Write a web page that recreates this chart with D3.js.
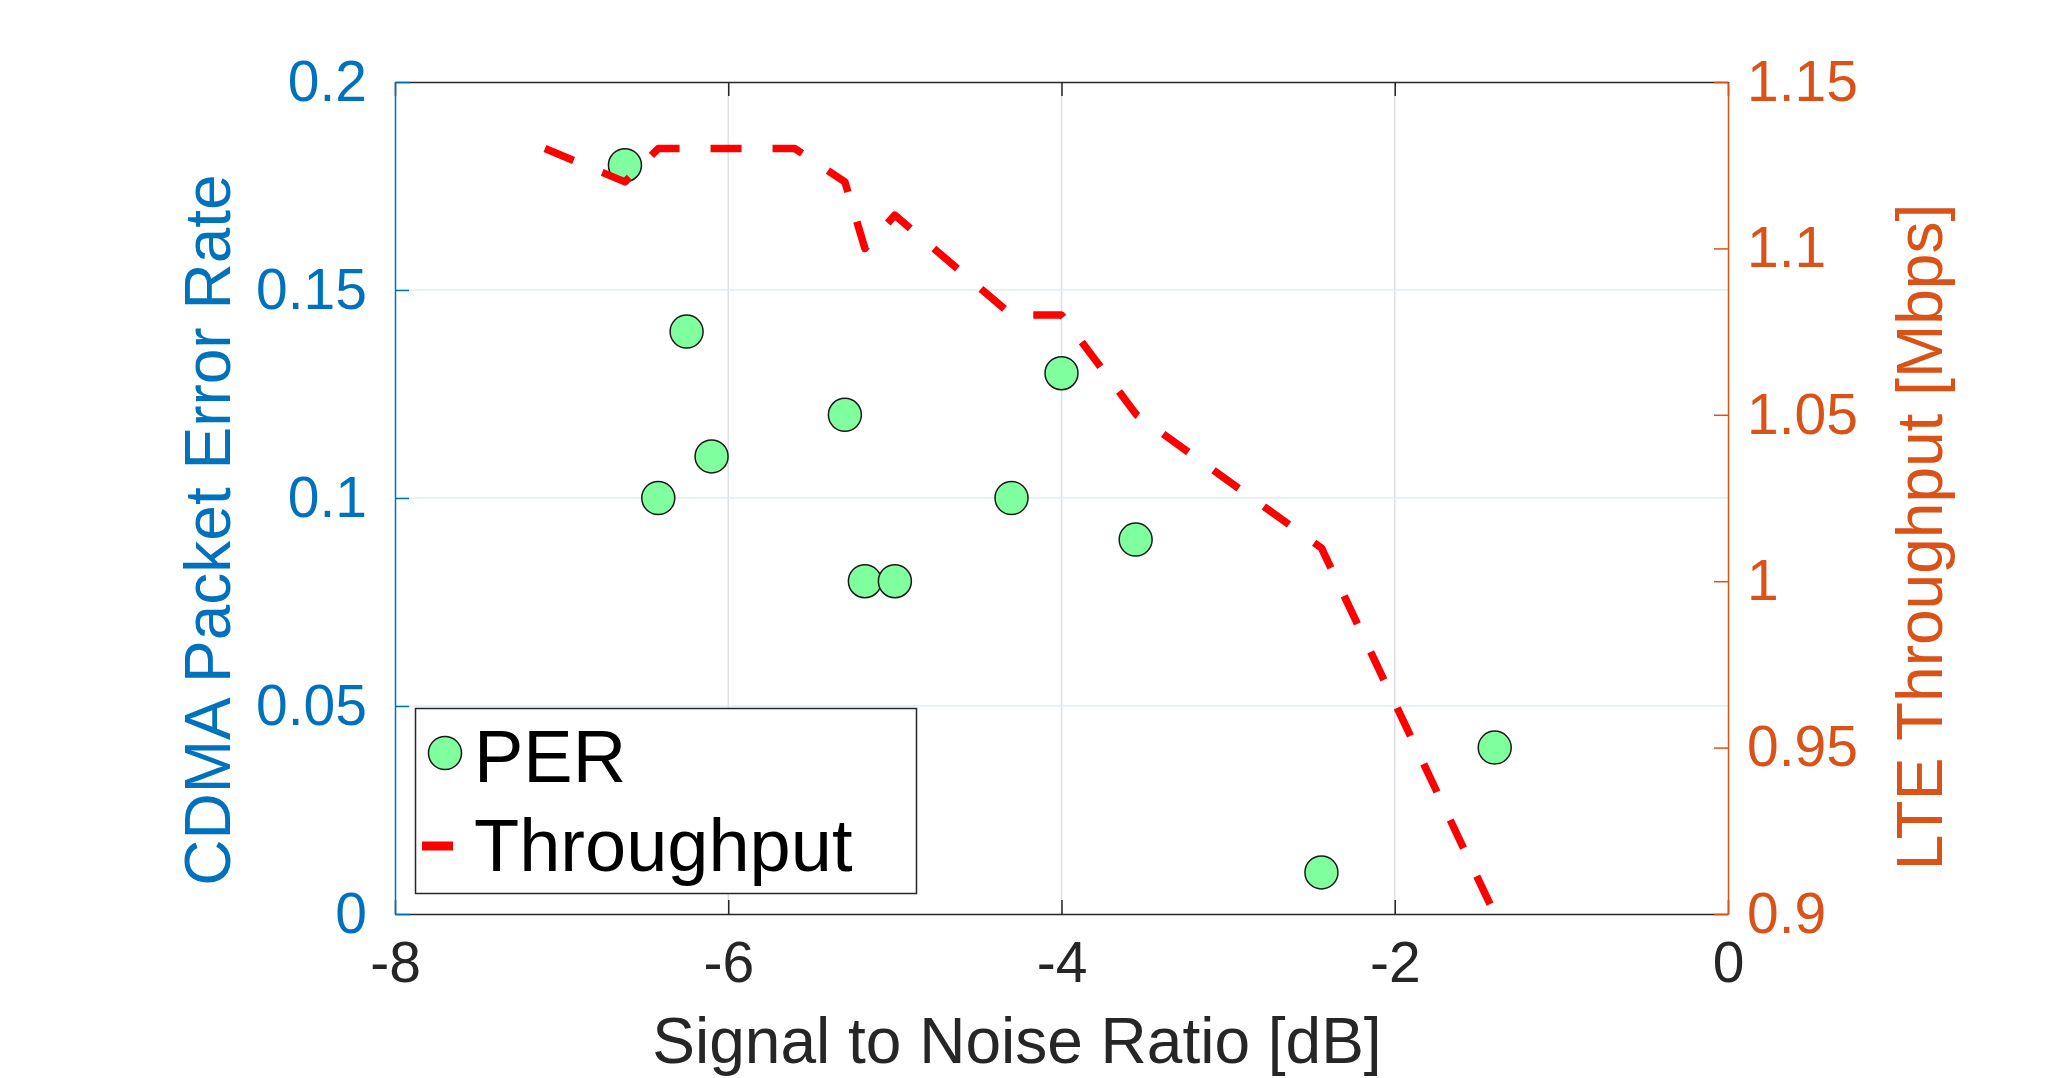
<!DOCTYPE html>
<html>
<head>
    <meta charset="utf-8" />
    <title>PER and LTE throughput vs SNR</title>
    <style>
        body { margin: 0; background: #fff; }
        svg text { font-family: "Liberation Sans", Arial, Helvetica, sans-serif; }
    </style>
    <script type="text/javascript" src="https://cdn.jsdelivr.net/npm/d3@7/dist/d3.min.js"></script>
</head>
<body>
    <div id="svg"></div>

    <script type="text/javascript">
        // data
        var snr = [-6.62, -6.25, -6.42, -6.10, -5.30, -5.18, -5.00, -4.30, -4.00, -3.555, -2.44, -1.40];
        var per = [0.18, 0.14, 0.10, 0.11, 0.12, 0.08, 0.08, 0.10, 0.13, 0.09, 0.01, 0.04];

        var thrSnr = [-7.10, -6.62, -6.42, -6.25, -6.10, -5.60, -5.30, -5.18, -5.00, -4.30, -4.00, -3.55, -2.44, -1.40];
        var thr = [1.13, 1.12, 1.13, 1.13, 1.13, 1.13, 1.12, 1.10, 1.11, 1.08, 1.08, 1.05, 1.01, 0.90];

        var xTicks = [-8, -6, -4, -2, 0];
        var leftTicks = [0, 0.05, 0.1, 0.15, 0.2];
        var leftLabels = ['0', '0.05', '0.1', '0.15', '0.2'];
        var rightTicks = [0.9, 0.95, 1, 1.05, 1.1, 1.15];
        var rightLabels = ['0.9', '0.95', '1', '1.05', '1.1', '1.15'];

        var width = 2053,
            height = 1078,
            plotLeft = 395, plotRight = 1728,
            plotTop = 82, plotBottom = 914;

        var blue = '#0072bd',
            orange = '#d95319',
            dark = '#262626';

        var svg = d3.select('#svg')
            .append('svg')
            .attr('width', width)
            .attr('height', height);

        var xScale = d3.scaleLinear().domain([-8, 0]).range([plotLeft, plotRight]);
        var yLeft = d3.scaleLinear().domain([0, 0.2]).range([plotBottom, plotTop]);
        var yRight = d3.scaleLinear().domain([0.9, 1.15]).range([plotBottom, plotTop]);

        // grid
        svg.append('g').selectAll('line')
            .data(xTicks.slice(1, -1))
            .enter().append('line')
            .attr('x1', d => xScale(d)).attr('x2', d => xScale(d))
            .attr('y1', plotTop).attr('y2', plotBottom)
            .attr('stroke', '#dcdfe3').attr('stroke-width', 1.5);

        svg.append('g').selectAll('line')
            .data(leftTicks.slice(1, -1))
            .enter().append('line')
            .attr('x1', plotLeft).attr('x2', plotRight)
            .attr('y1', d => yLeft(d)).attr('y2', d => yLeft(d))
            .attr('stroke', '#e2ecf4').attr('stroke-width', 1.5);

        // axes
        function styleAxis(g, color, size) {
            g.selectAll('.tick line').attr('stroke', color).attr('stroke-width', 1.5);
            g.select('.domain').attr('stroke', color).attr('stroke-width', 1.5);
            g.selectAll('.tick text')
                .attr('fill', color)
                .style('font-size', size + 'px');
        }

        var gTop = svg.append('g')
            .attr('transform', 'translate(0,' + plotTop + ')')
            .call(d3.axisTop(xScale).tickValues(xTicks).tickSizeInner(-14).tickSizeOuter(0).tickFormat(''));
        styleAxis(gTop, dark, 57);

        var gX = svg.append('g')
            .attr('transform', 'translate(0,' + plotBottom + ')')
            .call(d3.axisBottom(xScale).tickValues(xTicks).tickSizeInner(-14).tickSizeOuter(0).tickPadding(28).tickFormat(d => d));
        styleAxis(gX, dark, 57);

        var gL = svg.append('g')
            .attr('transform', 'translate(' + plotLeft + ',0)')
            .call(d3.axisLeft(yLeft).tickValues(leftTicks).tickSizeInner(-14).tickSizeOuter(0).tickPadding(28)
                .tickFormat((d, i) => leftLabels[i]));
        styleAxis(gL, blue, 57);

        var gR = svg.append('g')
            .attr('transform', 'translate(' + plotRight + ',0)')
            .call(d3.axisRight(yRight).tickValues(rightTicks).tickSizeInner(-14).tickSizeOuter(0).tickPadding(19)
                .tickFormat((d, i) => rightLabels[i]));
        styleAxis(gR, orange, 57);

        // axis titles
        svg.append('text')
            .attr('x', 1017).attr('y', 1063)
            .attr('text-anchor', 'middle')
            .attr('fill', dark)
            .style('font-size', '64px')
            .text('Signal to Noise Ratio [dB]');

        svg.append('text')
            .attr('transform', 'translate(230,530) rotate(-90)')
            .attr('text-anchor', 'middle')
            .attr('fill', blue)
            .style('font-size', '64px')
            .text('CDMA Packet Error Rate');

        svg.append('text')
            .attr('transform', 'translate(1942,537) rotate(-90)')
            .attr('text-anchor', 'middle')
            .attr('fill', orange)
            .style('font-size', '64px')
            .text('LTE Throughput [Mbps]');

        // PER markers
        var pts = snr.map((s, i) => ({ x: s, y: per[i] }));
        svg.append('g').selectAll('circle')
            .data(pts)
            .enter().append('circle')
            .attr('cx', d => xScale(d.x))
            .attr('cy', d => yLeft(d.y))
            .attr('r', 16.5)
            .attr('fill', '#80ff9f')
            .attr('stroke', '#1a1a1a')
            .attr('stroke-width', 1.5);

        // throughput line
        var line = d3.line()
            .x(d => xScale(d[0]))
            .y(d => yRight(d[1]));

        svg.append('path')
            .datum(thrSnr.map((s, i) => [s, thr[i]]))
            .attr('d', line)
            .attr('fill', 'none')
            .attr('stroke', '#ff0000')
            .attr('stroke-width', 7.5)
            .attr('stroke-dasharray', '31,31')
            .attr('stroke-linejoin', 'round');

        // legend
        var lg = svg.append('g');
        lg.append('rect')
            .attr('x', 415.5).attr('y', 708.5)
            .attr('width', 501).attr('height', 185)
            .attr('fill', '#fff')
            .attr('stroke', dark)
            .attr('stroke-width', 1.5);
        lg.append('circle')
            .attr('cx', 445).attr('cy', 753).attr('r', 16.5)
            .attr('fill', '#80ff9f').attr('stroke', '#1a1a1a').attr('stroke-width', 1.5);
        lg.append('line')
            .attr('x1', 422).attr('x2', 453)
            .attr('y1', 846).attr('y2', 846)
            .attr('stroke', '#ff0000').attr('stroke-width', 9);
        lg.append('text')
            .attr('x', 474).attr('y', 782)
            .attr('fill', '#000')
            .style('font-size', '74px')
            .text('PER');
        lg.append('text')
            .attr('x', 474).attr('y', 871)
            .attr('fill', '#000')
            .style('font-size', '74px')
            .text('Throughput');
    </script>
</body>
</html>
